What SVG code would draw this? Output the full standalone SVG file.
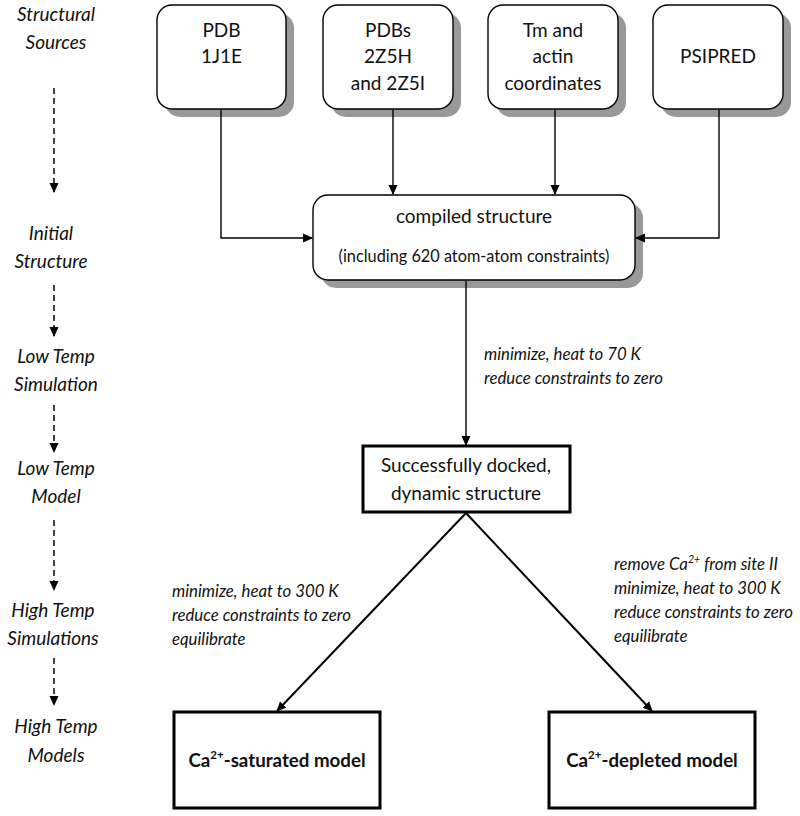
<svg xmlns="http://www.w3.org/2000/svg" width="800" height="816" viewBox="0 0 800 816">
<defs>
<style>
text{font-family:Lato,"Open Sans","Liberation Sans",sans-serif;fill:#111;}
.t{font-size:19px;text-anchor:middle;}
.s{font-size:16.3px;text-anchor:middle;}
.lab{font-size:19px;font-style:italic;text-anchor:middle;}
.note{font-size:16.8px;font-style:italic;}
.b{font-size:18.7px;font-weight:bold;text-anchor:middle;}
.rbox{fill:#fff;stroke:#000;stroke-width:1.4;}
.shadow{fill:#999;stroke:none;}
.sq{fill:#fff;stroke:#000;stroke-width:3;}
.ln{fill:none;stroke:#000;stroke-width:1.4;}
.dl{fill:none;stroke:#000;stroke-width:1.5;stroke-dasharray:6 4;}
.dg{fill:none;stroke:#000;stroke-width:2;}
</style>
<marker id="ah" markerWidth="10" markerHeight="10" refX="9" refY="5" orient="auto" markerUnits="userSpaceOnUse">
<path d="M0,0.5 L10,5 L0,9.5 Z" fill="#000"/>
</marker>
</defs>
<rect width="800" height="816" fill="#fff"/>

<g id="stage-labels">
<text class="lab" x="56" y="21">Structural</text>
<text class="lab" x="56" y="49">Sources</text>
<text class="lab" x="51" y="240">Initial</text>
<text class="lab" x="51" y="268">Structure</text>
<text class="lab" x="56" y="363">Low Temp</text>
<text class="lab" x="56" y="391">Simulation</text>
<text class="lab" x="56" y="475">Low Temp</text>
<text class="lab" x="56" y="503">Model</text>
<text class="lab" x="53" y="617">High Temp</text>
<text class="lab" x="53" y="645">Simulations</text>
<text class="lab" x="56" y="733">High Temp</text>
<text class="lab" x="56" y="762">Models</text>
</g>

<g id="stage-arrows">
<line class="dl" x1="54" y1="88" x2="54" y2="192" marker-end="url(#ah)"/>
<line class="dl" x1="54" y1="285" x2="54" y2="336" marker-end="url(#ah)"/>
<line class="dl" x1="54" y1="405" x2="54" y2="452" marker-end="url(#ah)"/>
<line class="dl" x1="54" y1="520" x2="54" y2="590" marker-end="url(#ah)"/>
<line class="dl" x1="54" y1="658" x2="54" y2="705" marker-end="url(#ah)"/>
</g>

<g id="edge-labels">
<text class="note" x="484" y="360">minimize, heat to 70 K</text>
<text class="note" x="484" y="384">reduce constraints to zero</text>
<text class="note" x="172" y="597">minimize, heat to 300 K</text>
<text class="note" x="172" y="621">reduce constraints to zero</text>
<text class="note" x="172" y="645">equilibrate</text>
<text class="note" x="614" y="570">remove Ca<tspan font-size="10.5" dy="-7">2+</tspan><tspan dy="7"> from site II</tspan></text>
<text class="note" x="614" y="594">minimize, heat to 300 K</text>
<text class="note" x="614" y="618">reduce constraints to zero</text>
<text class="note" x="614" y="642">equilibrate</text>
</g>

<g id="pdb1j1e">
<rect class="shadow" x="165" y="13" width="129" height="104" rx="15"/>
<rect class="rbox" x="157" y="5" width="129" height="104" rx="15"/>
<text class="t" x="221.5" y="37">PDB</text>
<text class="t" x="221.5" y="63">1J1E</text>
</g>

<g id="pdbs2z5h">
<rect class="shadow" x="331" y="13" width="130" height="104" rx="15"/>
<rect class="rbox" x="323" y="5" width="130" height="104" rx="15"/>
<text class="t" x="388" y="37">PDBs</text>
<text class="t" x="388" y="63">2Z5H</text>
<text class="t" x="388" y="90">and 2Z5I</text>
</g>

<g id="tmactin">
<rect class="shadow" x="496" y="13" width="130" height="104" rx="15"/>
<rect class="rbox" x="488" y="5" width="130" height="104" rx="15"/>
<text class="t" x="553" y="37">Tm and</text>
<text class="t" x="553" y="63">actin</text>
<text class="t" x="553" y="90">coordinates</text>
</g>

<g id="psipred">
<rect class="shadow" x="661" y="13" width="130" height="104" rx="15"/>
<rect class="rbox" x="653" y="5" width="130" height="104" rx="15"/>
<text class="t" x="718" y="63">PSIPRED</text>
</g>

<g id="compiled">
<rect class="shadow" x="321" y="203" width="322" height="85" rx="15"/>
<rect class="rbox" x="313" y="195" width="322" height="85" rx="15"/>
<text class="t" x="474" y="223">compiled structure</text>
<text class="s" x="474" y="262">(including 620 atom-atom constraints)</text>
</g>

<g id="docked">
<rect class="sq" x="363" y="446" width="207" height="66"/>
<text class="t" x="466" y="472">Successfully docked,</text>
<text class="t" x="466" y="500">dynamic structure</text>
</g>

<g id="saturated">
<rect class="sq" x="174" y="712" width="206" height="96"/>
<text class="b" x="277" y="767">Ca<tspan font-size="11.5" dy="-8">2+</tspan><tspan dy="8">-saturated model</tspan></text>
</g>

<g id="depleted">
<rect class="sq" x="549" y="712" width="206" height="96"/>
<text class="b" x="652" y="767">Ca<tspan font-size="11.5" dy="-8">2+</tspan><tspan dy="8">-depleted model</tspan></text>
</g>

<g id="connectors">
<polyline class="ln" points="221,110 221,238 312,238" marker-end="url(#ah)"/>
<line class="ln" x1="393" y1="110" x2="393" y2="194" marker-end="url(#ah)"/>
<line class="ln" x1="555" y1="110" x2="555" y2="194" marker-end="url(#ah)"/>
<polyline class="ln" points="719,110 719,238 636,238" marker-end="url(#ah)"/>
<line class="ln" x1="466" y1="281" x2="466" y2="445" marker-end="url(#ah)"/>
<line class="dg" x1="466" y1="513" x2="277" y2="711" marker-end="url(#ah)"/>
<line class="dg" x1="466" y1="513" x2="652" y2="711" marker-end="url(#ah)"/>
</g>
</svg>
